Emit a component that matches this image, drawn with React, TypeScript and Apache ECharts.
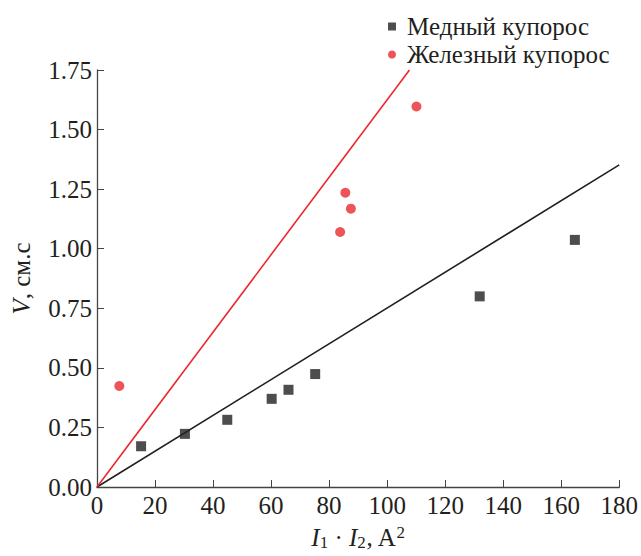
import React, { useEffect, useRef } from "react";
import * as echarts from "echarts";

const copperData: [number, number][] = [
  [15.2, 0.171], [30.3, 0.223], [44.9, 0.282], [60.2, 0.37],
  [66.0, 0.408], [75.2, 0.474], [131.9, 0.8], [164.7, 1.037],
];
const ironData: [number, number][] = [
  [7.7, 0.424], [83.8, 1.07], [85.6, 1.235], [87.5, 1.168], [110.1, 1.597],
];
const copperFit: [number, number][] = [[0, 0], [180, 1.352]];
const ironFit: [number, number][] = [[0, 0], [107.7, 1.75]];
const seriesNames = ["Медный купорос", "Железный купорос"];

const FONT = "Liberation Serif";
const INK = "#231f20";
const RED = "#e8292e";
const FS = 25;

export default function App() {
  const ref = useRef<HTMLDivElement>(null);
  useEffect(() => {
    if (!ref.current) return;
    const chart = echarts.init(ref.current, null, { renderer: "svg" });
    chart.setOption({
      animation: false,
      backgroundColor: "#fff",
      textStyle: { fontFamily: FONT },
      grid: { left: 97, right: 16, top: 70, bottom: 64, containLabel: false },
      legend: {
        orient: "vertical",
        left: 388,
        top: 14,
        padding: 0,
        itemWidth: 8,
        itemHeight: 8,
        itemGap: 3,
        data: [
          { name: seriesNames[0], icon: "rect" },
          { name: seriesNames[1], icon: "circle" },
        ],
        textStyle: {
          fontFamily: FONT,
          fontSize: FS,
          lineHeight: 20,
          color: INK,
          padding: [0, 0, 0, 6],
        },
      },
      xAxis: {
        type: "value",
        min: 0,
        max: 180,
        interval: 20,
        axisLine: { lineStyle: { color: "#444", width: 1.3 } },
        axisTick: { inside: true, length: 7, lineStyle: { color: "#444" } },
        splitLine: { show: false },
        axisLabel: { fontFamily: FONT, fontSize: FS, color: INK, margin: 6 },
        name: "{i|I}{s|1} · {i|I}{s|2}, A{p|2}",
        nameLocation: "middle",
        nameGap: 37,
        nameTextStyle: {
          fontFamily: FONT,
          fontSize: FS,
          color: INK,
          rich: {
            i: { fontFamily: FONT, fontSize: FS, fontStyle: "italic", color: INK },
            s: { fontFamily: FONT, fontSize: 17, color: INK, verticalAlign: "bottom", padding: [10, 0, 0, 0] },
            p: { fontFamily: FONT, fontSize: 17, color: INK, verticalAlign: "top", padding: [0, 0, 8, 0] },
          },
        },
      },
      yAxis: {
        type: "value",
        min: 0,
        max: 1.75,
        interval: 0.25,
        axisLine: { show: true, lineStyle: { color: "#444", width: 1.3 } },
        axisTick: { show: true, inside: true, length: 7, lineStyle: { color: "#444" } },
        splitLine: { show: false },
        axisLabel: {
          fontFamily: FONT,
          fontSize: FS,
          color: INK,
          margin: 5,
          formatter: (v: number) => v.toFixed(2),
        },
        name: "{i|V}, см.с",
        nameLocation: "middle",
        nameGap: 63,
        nameRotate: 90,
        nameTextStyle: {
          fontFamily: FONT,
          fontSize: FS,
          color: INK,
          rich: {
            i: { fontFamily: FONT, fontSize: FS, fontStyle: "italic", color: INK },
          },
        },
      },
      series: [
        {
          name: "copperFit",
          type: "line",
          data: copperFit,
          showSymbol: false,
          lineStyle: { color: INK, width: 1.6 },
          silent: true,
          z: 1,
        },
        {
          name: "ironFit",
          type: "line",
          data: ironFit,
          showSymbol: false,
          lineStyle: { color: RED, width: 1.6 },
          silent: true,
          z: 1,
        },
        {
          name: seriesNames[0],
          type: "scatter",
          data: copperData,
          symbol: "rect",
          symbolSize: 10,
          itemStyle: { color: INK },
          z: 3,
        },
        {
          name: seriesNames[1],
          type: "scatter",
          data: ironData,
          symbol: "circle",
          symbolSize: 10,
          itemStyle: { color: RED },
          z: 3,
        },
      ],
    });
    return () => chart.dispose();
  }, []);
  return (
    <div
      ref={ref}
      style={{ position: "fixed", left: 0, top: 0, width: 641, height: 556 }}
    />
  );
}
